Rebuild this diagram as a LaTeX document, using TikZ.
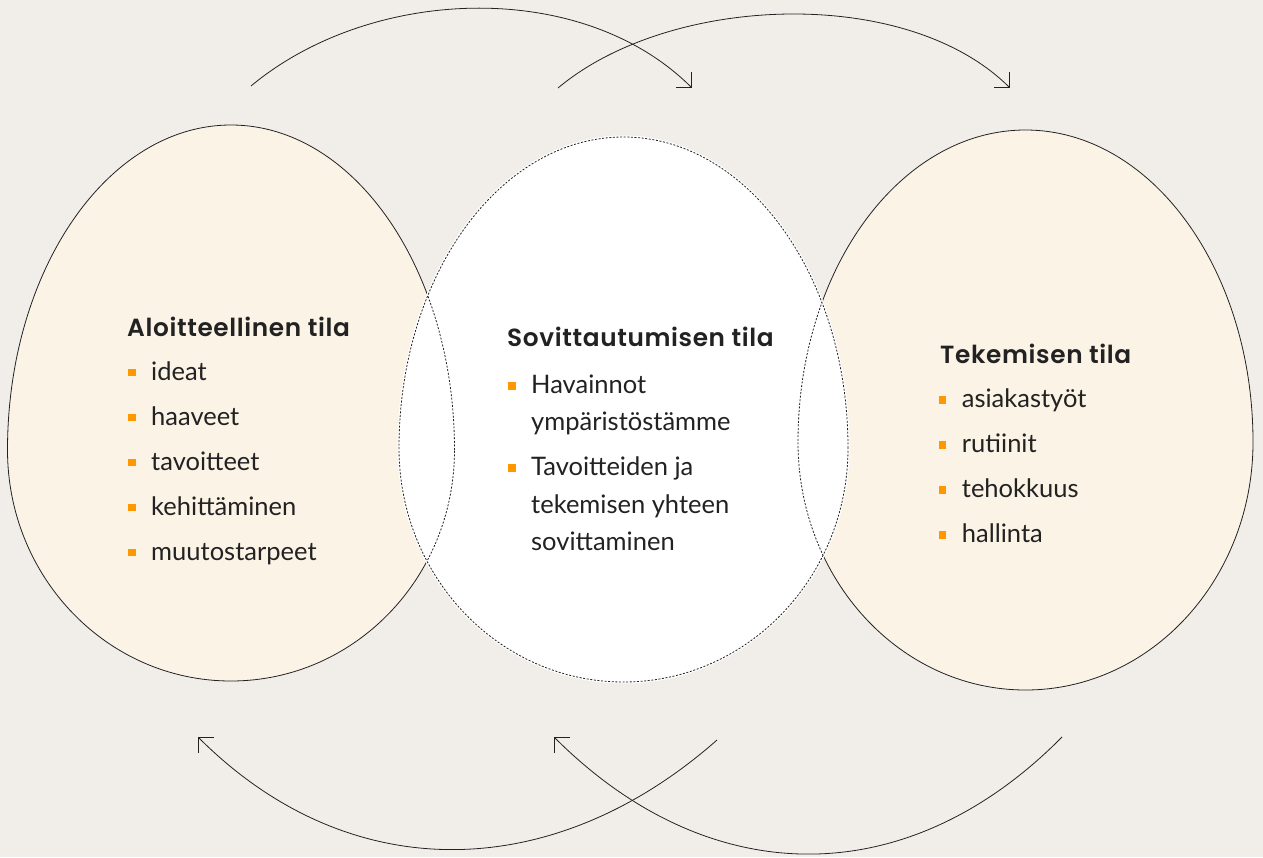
\documentclass[tikz,border=0pt]{standalone}
\usepackage{fontspec}
\setmainfont{Lato}
\newfontfamily\headfont{Poppins SemiBold}[LetterSpace=2.5]
\usetikzlibrary{arrows.meta}
\usetikzlibrary{positioning}

\definecolor{bgcol}{HTML}{F1EEE9}
\definecolor{eggcol}{HTML}{FBF3E6}
\definecolor{inkcol}{HTML}{222222}
\definecolor{bulcol}{HTML}{FF9800}

\tikzset{
  egg/.style n args={5}{insert path={(#1+#3,#2)
      arc[start angle=0,end angle=180,x radius=#3pt,y radius=#4pt]
      arc[start angle=180,end angle=360,x radius=#3pt,y radius=#5pt] -- cycle}},
  dotline/.style={draw=inkcol, line width=0.8pt, dash pattern=on 2pt off 1.6pt},
  head/.style={anchor=base west, inner sep=0pt, text=inkcol, font=\headfont\fontsize{24.8}{28}\selectfont},
  item/.style={anchor=base west, inner sep=0pt, text=inkcol, font=\fontsize{25.5}{30}\selectfont},
  sq/.style={fill=bulcol, minimum size=7.5pt, inner sep=0pt},
  arr/.style={draw=inkcol, line width=0.8pt, -{Straight Barb[length=11pt,width=22pt]}}
}

\begin{document}
\begin{tikzpicture}[x=1pt, y=-1pt]
        \useasboundingbox (0,0) rectangle (1263,857);
        \fill[bgcol] (0,0) rectangle (1263,857);

        % side eggs
        \path[fill=eggcol, draw=inkcol, line width=0.8pt, egg={231}{450}{223.5}{325}{231}];
        \path[fill=eggcol, draw=inkcol, line width=0.8pt, egg={1025.5}{442}{227.5}{312}{248}];

        % middle egg on top, side outlines dotted inside it
        \path[fill=white, draw=white, line width=3pt, egg={623.5}{448}{224.5}{311}{234}];
        \begin{scope}
            \clip[egg={623.5}{448}{224.5}{311}{234}];
            \path[dotline, egg={231}{450}{223.5}{325}{231}];
            \path[dotline, egg={1025.5}{442}{227.5}{312}{248}];
        \end{scope}
        \path[dotline, egg={623.5}{448}{224.5}{311}{234}];

        % Aloitteellinen tila
        \node[head] (ah) at (127,336.7) {Aloitteellinen tila};
        \node[item] (a1) at (151,380) {ideat};
        \node[item, below=45pt of a1.base west, anchor=base west] (a2) {haaveet};
        \node[item, below=45pt of a2.base west, anchor=base west] (a3) {tavoitteet};
        \node[item, below=45pt of a3.base west, anchor=base west] (a4) {kehittäminen};
        \node[item, below=45pt of a4.base west, anchor=base west] (a5) {muutostarpeet};

        % Sovittautumisen tila
        \node[head] (mh) at (507,346.7) {Sovittautumisen tila};
        \node[item] (m1) at (531,393.3) {Havainnot};
        \node[item, below=37.3pt of m1.base west, anchor=base west] (m1b) {ympäristöstämme};
        \node[item] (m2) at (531,475.7) {Tavoitteiden ja};
        \node[item, below=37.3pt of m2.base west, anchor=base west] (m2b) {tekemisen yhteen};
        \node[item, below=37.3pt of m2b.base west, anchor=base west] (m2c) {sovittaminen};

        % Tekemisen tila
        \node[head] (th) at (940,363.3) {Tekemisen tila};
        \node[item] (t1) at (961.7,407.3) {asiakastyöt};
        \node[item, below=45pt of t1.base west, anchor=base west] (t2) {rutiinit};
        \node[item, below=45pt of t2.base west, anchor=base west] (t3) {tehokkuus};
        \node[item, below=45pt of t3.base west, anchor=base west] (t4) {hallinta};

        \foreach \n in {a1,a2,a3,a4,a5,m1,m2,t1,t2,t3,t4}
            \node[sq] (s\n) at ([xshift=-19pt,yshift=7.5pt]\n.base west) {};

        % cycle arrows
        \coordinate (u1) at (251,86);
        \coordinate (u1e) at (692,88);
        \coordinate (u2) at (558,88);
        \coordinate (u2e) at (1010,88);
        \coordinate (d1) at (717,740);
        \coordinate (d1e) at (198,737);
        \coordinate (d2) at (1062,737);
        \coordinate (d2e) at (554,737);

        \draw[arr] (u1) .. controls (371,-14) and (582,-22) .. (u1e);
        \draw[arr] (u2) .. controls (670,-6) and (907,-15) .. (u2e);
        \draw[arr] (d1) .. controls (555,883) and (351,890) .. (d1e);
        \draw[arr] (d2) .. controls (908,893) and (710,893) .. (d2e);
    \end{tikzpicture}
\end{document}
